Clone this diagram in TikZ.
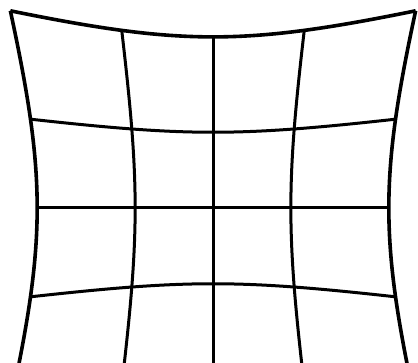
\documentclass[tikz,border=0pt]{standalone}
\usepackage{tikz}

\begin{document}
\begin{tikzpicture}[
  x=1pt, y=-1pt,
  gridline/.style={draw=black, line width=3pt, line join=round},
  rimline/.style={gridline, line width=3.6pt}
]
\useasboundingbox (0,0) rectangle (418,363);
\fill[white] (0,0) rectangle (418,363);
\clip (0,0) rectangle (418,363);

% rows of the pincushion grid
\foreach \v in {-2,...,1} {
  \ifnum\v=-2 \def\lstyle{rimline}\else \def\lstyle{gridline}\fi
  \draw[\lstyle] plot[domain=-2:2, samples=41, smooth, variable=\t]
    ({213+74.5*(\t)*(1+0.045*((\t)*(\t)+(\v)*(\v)))},
     {208+72.5*(\v)*(1+0.045*((\t)*(\t)+(\v)*(\v)))});
}
% columns
\foreach \u in {-2,...,2} {
  \def\lstyle{gridline}
  \ifnum\u=-2 \def\lstyle{rimline}\fi
  \ifnum\u=2 \def\lstyle{rimline}\fi
  \draw[\lstyle] plot[domain=-2:2.2, samples=43, smooth, variable=\t]
    ({213+74.5*(\u)*(1+0.045*((\t)*(\t)+(\u)*(\u)))},
     {208+72.5*(\t)*(1+0.045*((\t)*(\t)+(\u)*(\u)))});
}
\end{tikzpicture}
\end{document}
